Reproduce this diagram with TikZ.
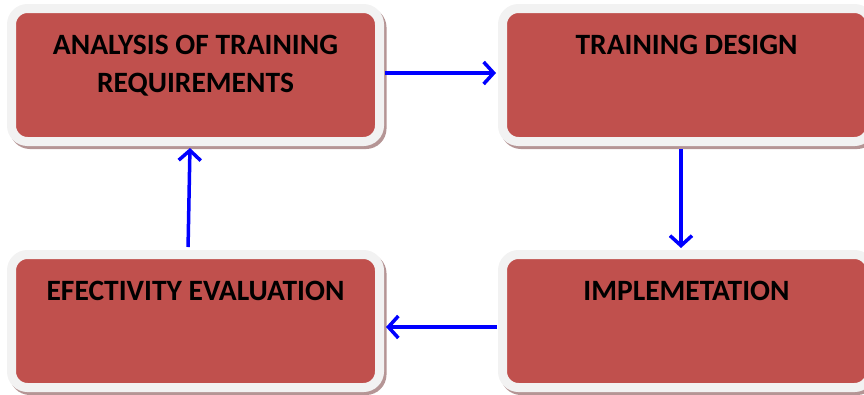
\documentclass[tikz,border=0pt]{standalone}
\usepackage{fontspec}
\setmainfont{Carlito}
\usetikzlibrary{arrows.meta,shadows}
\definecolor{boxred}{HTML}{C0504D}
\definecolor{boxrim}{HTML}{F2F2F2}
\definecolor{boxshade}{HTML}{B59595}
\tikzset{
  stagebox/.style={rectangle, rounded corners=16pt, fill=boxred, draw=boxrim, line width=9pt,
    minimum width=368pt, minimum height=133pt, inner sep=0pt,
    drop shadow={shadow xshift=2.5pt, shadow yshift=-3pt, fill=boxshade, draw=boxshade, line width=9pt, opacity=1},
    font=\fontsize{29.5}{38}\selectfont\bfseries,
    execute at begin node={\begin{minipage}[c][125pt][t]{361pt}\centering\vspace*{23pt}},
    execute at end node={\end{minipage}}},
  flow/.style={-{Straight Barb[length=10pt,width=22pt]}, blue, line width=3.5pt}
}
\begin{document}
\begin{tikzpicture}[x=1pt,y=-1pt]
    \useasboundingbox (0,0) rectangle (864,394);
    \node[stagebox] (analysis) at (195.5,75) {ANALYSIS OF TRAINING\\REQUIREMENTS};
    \node[stagebox] (design) at (686.5,75) {TRAINING DESIGN};
    \node[stagebox] (implement) at (686.5,321) {IMPLEMETATION};
    \node[stagebox] (evaluation) at (195.5,321) {EFECTIVITY EVALUATION};
    \draw[flow, shorten <=1pt, shorten >=2pt] ([yshift=2pt]analysis.east) -- ([yshift=2pt]design.west);
    \draw[flow, shorten <=3pt, shorten >=2pt] ([xshift=-5.5pt]design.south) -- ([xshift=-5.5pt]implement.north);
    \draw[flow, shorten <=1pt, shorten >=2pt] ([yshift=-6pt]implement.west) -- ([yshift=-6pt]evaluation.east);
    \draw[flow, shorten <=3pt, shorten >=2pt] ([xshift=-7.5pt]evaluation.north) -- ([xshift=-5.5pt]analysis.south);
\end{tikzpicture}
\end{document}
